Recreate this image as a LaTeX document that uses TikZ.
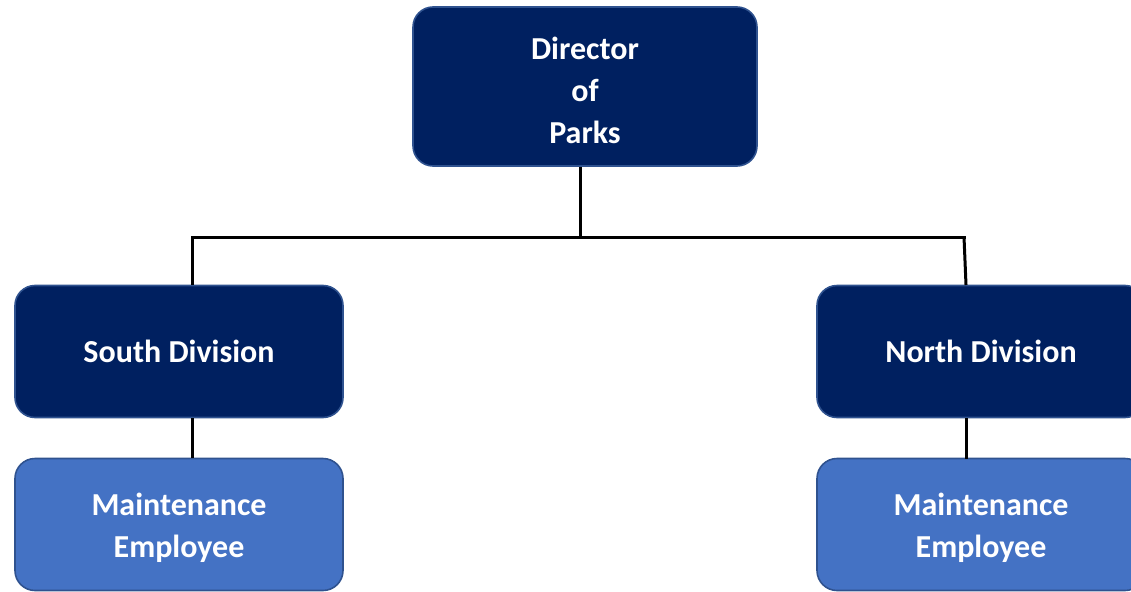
\documentclass[tikz,border=0pt]{standalone}
\usepackage{fontspec}
\setmainfont{Carlito}
% extra room above the first line of a multi-line label
\newcommand{\firstlinestrut}{\rule{0pt}{30pt}}
\begin{document}
\begin{tikzpicture}[x=1pt,y=-1pt,
  box/.style={draw=boxedge, line width=1.6pt, rounded corners=20pt,
    minimum width=328pt, minimum height=132pt, align=center,
    text=white, font=\fontsize{32}{42}\selectfont\bfseries, inner sep=0pt},
  headbox/.style={box, fill=navy},
  unitbox/.style={box, fill=lightblue},
  link/.style={line width=3pt, black}]
\definecolor{navy}{HTML}{002060}
\definecolor{lightblue}{HTML}{4472C4}
\definecolor{boxedge}{HTML}{2F528F}
\useasboundingbox (0,0) rectangle (1131,591);
\clip (0,0) rectangle (1131,591);

% boxes
\node[headbox, minimum width=344pt, minimum height=159pt] (dir) at (585,86.5) {\firstlinestrut Director\\of\\Parks};
\node[headbox] (south) at (179,351.5) {South Division};
\node[headbox] (north) at (981,351.5) {North Division};
\node[unitbox] (msouth) at (179,524.5) {\firstlinestrut Maintenance\\Employee};
\node[unitbox] (mnorth) at (981,524.5) {\firstlinestrut Maintenance\\Employee};

% connectors
\coordinate (bus) at (580,237);
\coordinate (busl) at (192,237);
\coordinate (busr) at (964,237);
\draw[link] (bus |- dir.south) -- (bus);
\draw[link, line cap=rect] (busl) -- (busr);
\draw[link] (busl) -- (busl |- south.north);
\draw[link] (busr) -- (966,285);
\draw[link] (busl |- south.south) -- (busl |- msouth.north);
\draw[link] (966,418) -- (966,459);
\end{tikzpicture}
\end{document}
